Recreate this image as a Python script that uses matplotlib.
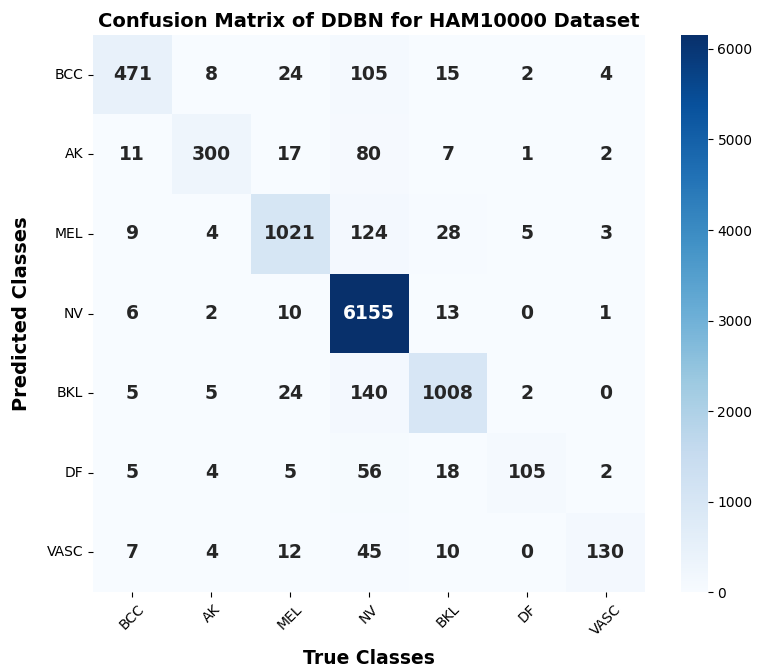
import matplotlib
matplotlib.use("Agg")
import matplotlib.pyplot as plt
import seaborn as sns
import numpy as np

classes = ["BCC", "AK", "MEL", "NV", "BKL", "DF", "VASC"]
row_bcc = [471, 8, 24, 105, 15, 2, 4]
row_ak = [11, 300, 17, 80, 7, 1, 2]
row_mel = [9, 4, 1021, 124, 28, 5, 3]
row_nv = [6, 2, 10, 6155, 13, 0, 1]
row_bkl = [5, 5, 24, 140, 1008, 2, 0]
row_df = [5, 4, 5, 56, 18, 105, 2]
row_vasc = [7, 4, 12, 45, 10, 0, 130]
matrix = np.array([row_bcc, row_ak, row_mel, row_nv, row_bkl, row_df, row_vasc])

fig = plt.figure(figsize=(7.61, 6.70), dpi=100)
ax = fig.add_axes([0.122, 0.116, 0.726, 0.832])
cax = fig.add_axes([0.895, 0.116, 0.035, 0.832])
sns.heatmap(matrix, annot=True, fmt="d", cmap="Blues", ax=ax, cbar_ax=cax,
            xticklabels=classes, yticklabels=classes,
            annot_kws={"fontsize": 13.5, "fontweight": "bold"})
ax.set_title("Confusion Matrix of DDBN for HAM10000 Dataset", fontsize=14, fontweight="bold", pad=6)
ax.set_xlabel("True Classes", fontsize=13.5, fontweight="bold", labelpad=8)
ax.set_ylabel("Predicted Classes", fontsize=14, fontweight="bold", labelpad=11)
ax.tick_params(axis="both", labelsize=10)
cax.tick_params(labelsize=10)
plt.setp(ax.get_xticklabels(), rotation=45)
plt.setp(ax.get_yticklabels(), rotation=0)
fig.savefig("out.png", dpi=100)
